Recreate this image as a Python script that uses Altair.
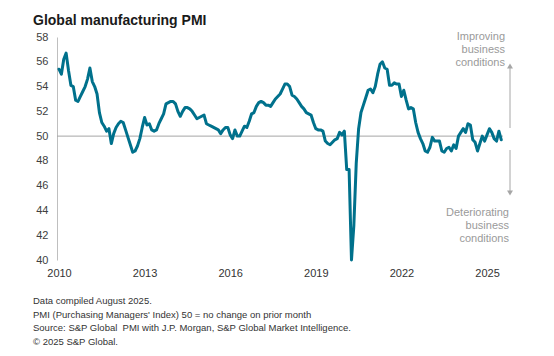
import altair as alt
import pandas as pd

# ---------------- data ----------------
years = list(range(2010, 2026))
pmi_2010 = [55.4, 55.0, 56.2, 56.7, 55.3, 54.1, 54.0, 52.9, 52.8, 53.2, 53.6, 54.0]
pmi_2011 = [54.6, 55.5, 54.4, 54.0, 53.4, 51.9, 51.1, 50.8, 50.4, 50.6, 49.4, 50.2]
pmi_2012 = [50.7, 51.0, 51.2, 51.1, 50.5, 49.9, 49.3, 48.7, 48.8, 49.2, 49.8, 50.7]
pmi_2013 = [51.5, 50.9, 51.0, 50.5, 50.4, 50.5, 51.0, 51.4, 51.8, 52.6, 52.7, 52.8]
pmi_2014 = [52.8, 52.6, 52.0, 51.6, 52.0, 52.3, 52.3, 52.2, 52.0, 51.7, 51.4, 51.5]
pmi_2015 = [51.6, 51.7, 51.0, 50.9, 50.8, 50.7, 50.6, 50.5, 50.2, 50.5, 50.7, 50.7]
pmi_2016 = [50.1, 49.8, 50.5, 50.0, 50.0, 50.4, 50.8, 50.7, 51.2, 51.8, 51.9, 52.4]
pmi_2017 = [52.7, 52.8, 52.7, 52.5, 52.5, 52.4, 52.7, 53.0, 53.2, 53.4, 53.8, 54.2]
pmi_2018 = [54.2, 54.0, 53.3, 53.2, 53.0, 52.7, 52.4, 52.2, 51.9, 51.8, 51.7, 51.1]
pmi_2019 = [50.6, 50.5, 50.5, 50.4, 49.6, 49.4, 49.3, 49.5, 49.7, 49.8, 50.3, 50.1]
pmi_2020 = [50.4, 47.3, 47.3, 40.0, 42.8, 47.8, 50.6, 51.9, 52.5, 53.1, 53.7, 53.8]
pmi_2021 = [53.5, 54.0, 55.0, 55.8, 56.0, 55.5, 55.4, 54.1, 54.1, 54.3, 54.2, 54.2]
pmi_2022 = [53.2, 53.7, 52.9, 52.2, 52.3, 52.2, 51.1, 50.3, 49.8, 49.4, 48.8, 48.7]
pmi_2023 = [49.1, 49.9, 49.6, 49.6, 49.6, 48.8, 48.7, 49.0, 49.1, 48.8, 49.3, 49.0]
pmi_2024 = [50.0, 50.3, 50.6, 50.3, 51.0, 50.9, 49.7, 49.5, 48.8, 49.4, 50.0, 49.6]
pmi_2025 = [50.1, 50.6, 50.3, 49.8, 49.6, 50.4, 49.7]

series = [pmi_2010, pmi_2011, pmi_2012, pmi_2013, pmi_2014, pmi_2015, pmi_2016,
          pmi_2017, pmi_2018, pmi_2019, pmi_2020, pmi_2021, pmi_2022, pmi_2023,
          pmi_2024, pmi_2025]

x_ticks = [2010, 2013, 2016, 2019, 2022, 2025]
y_ticks = [40, 42, 44, 46, 48, 50, 52, 54, 56, 58]

title_text = "Global manufacturing PMI"
up_text = ["Improving", "business", "conditions"]
down_text = ["Deteriorating", "business", "conditions"]
footer_text = [
    "Data compiled August 2025.",
    "PMI (Purchasing Managers' Index) 50 = no change on prior month",
    "Source: S&P Global\u00a0 PMI with J.P. Morgan, S&P Global Market Intelligence.",
    "\u00a9 2025 S&P Global.",
]

rows = []
for yr, vals in zip(years, series):
    for m, v in enumerate(vals):
        rows.append({"t": yr + m / 12.0, "pmi": v})
df = pd.DataFrame(rows)

FONT = "Liberation Sans"
W, H = 446, 223
GREY = "#a6a6a6"
one = pd.DataFrame({"a": [0]})

y_scale = alt.Scale(domain=[40, 58], nice=False, zero=False)
y_axis = alt.Axis(values=y_ticks, title=None, domain=True,
                  domainColor="#bfbfbf", domainWidth=1, ticks=False,
                  tickSize=0, grid=False, labelFontSize=11,
                  labelColor="#404040", labelPadding=9, labelFont=FONT,
                  labelOverlap=False, labelBound=False, format="d")

ref = alt.Chart(pd.DataFrame({"v": [50]})).mark_rule(color=GREY, strokeWidth=1).encode(
    y=alt.Y("v:Q", scale=y_scale, axis=y_axis)
)

line = alt.Chart(df).mark_line(
    color="#00718c", strokeWidth=3, strokeJoin="round", strokeCap="round"
).encode(
    x=alt.X("t:Q",
            scale=alt.Scale(domain=[2009.93, 2025.56], nice=False, zero=False),
            axis=alt.Axis(values=x_ticks, format="d", title=None, domain=False,
                          ticks=False, tickSize=0, grid=False, labelFontSize=11,
                          labelColor="#333333", labelPadding=7, labelFont=FONT,
                          labelOverlap=False)),
    y=alt.Y("pmi:Q", scale=y_scale, axis=y_axis),
)

title = alt.Chart(one).mark_text(
    text=title_text, font=FONT, fontSize=14, fontWeight="bold", color="#1a1a1a",
    align="left", baseline="alphabetic"
).encode(x=alt.value(-24), y=alt.value(-12))

up = alt.Chart(one).mark_text(
    font=FONT, fontSize=11, color="#9a9a9a", align="right", baseline="top",
    lineHeight=12.8
).encode(text=alt.value(up_text), x=alt.value(448), y=alt.value(-6))

down = alt.Chart(one).mark_text(
    font=FONT, fontSize=11, color="#9a9a9a", align="right", baseline="top",
    lineHeight=12.8
).encode(text=alt.value(down_text), x=alt.value(452), y=alt.value(170))

up_rule = alt.Chart(one).mark_rule(color=GREY, strokeWidth=1).encode(
    x=alt.value(453), y=alt.value(31), y2=alt.value(91))
down_rule = alt.Chart(one).mark_rule(color=GREY, strokeWidth=1).encode(
    x=alt.value(453), y=alt.value(113), y2=alt.value(155))
up_head = alt.Chart(one).mark_point(shape="triangle-up", filled=True, size=35,
                                     color=GREY, opacity=1).encode(
    x=alt.value(453), y=alt.value(29))
down_head = alt.Chart(one).mark_point(shape="triangle-down", filled=True, size=35,
                                       color=GREY, opacity=1).encode(
    x=alt.value(453), y=alt.value(156))

footer = alt.Chart(one).mark_text(
    font=FONT, fontSize=9.5, color="#333333", align="left", baseline="middle",
    lineHeight=13.6
).encode(text=alt.value(footer_text), x=alt.value(-24), y=alt.value(264))

chart = alt.layer(
    ref, line, title, up, down, up_rule, down_rule, up_head, down_head, footer
).properties(
    width=W, height=H,
    autosize=alt.AutoSizeParams(type="none"),
    padding={"left": 57, "top": 37, "right": 51, "bottom": 96},
    background="white",
).configure_view(stroke=None)

chart.save("out.html", embed_options={"renderer": "svg", "actions": False})
